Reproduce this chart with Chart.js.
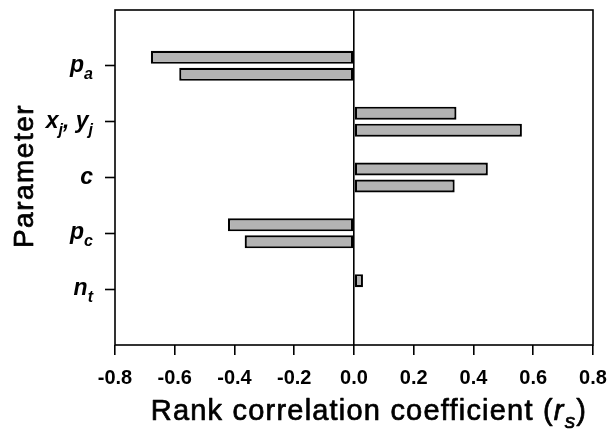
<!DOCTYPE html>
<html>
<head>
<meta charset="utf-8">
<script src="https://cdn.jsdelivr.net/npm/chart.js@4.4.0/dist/chart.umd.min.js"></script>
<style>
  html, body { margin: 0; padding: 0; background: #fff; }
  #wrap { width: 609px; height: 435px; }
</style>
</head>
<body>
<div id="wrap"><canvas id="rankChart" width="609" height="435"></canvas></div>
<script>
// parameter names, '_' puts the next letter in subscript
const parameters = ['p_a', 'x_j, y_j', 'c', 'p_c', 'n_t'];
const upperBars = [-0.68, 0.343, 0.448, -0.422, 0.03];
const lowerBars = [-0.585, 0.562, 0.337, -0.366, 0];
const xTicks = [-0.8, -0.6, -0.4, -0.2, 0.0, 0.2, 0.4, 0.6, 0.8];

const FONT = '"Liberation Sans", Arial, sans-serif';
const CLEAR = 'rgba(0,0,0,0)';

// one empty slot above and below so the categories sit like the original
const labels = [''].concat(parameters, ['']);
const pad = arr => [null].concat(arr, [null]);

// fill + thin stroke, the original text is a bit heavier than plain regular
function heavyText(ctx, t, x, y) {
    ctx.fillText(t, x, y);
    ctx.strokeText(t, x, y);
}

// draw text with '_x' subscripts, right aligned at x
function drawSubText(ctx, str, x, y, size) {
    const parts = [];
    for (let i = 0; i < str.length; i++) {
        if (str[i] === '_' && i + 1 < str.length) {
            parts.push({ t: str[i + 1], sub: true });
            i++;
        } else {
            parts.push({ t: str[i], sub: false });
        }
    }
    const subSize = Math.round(size * 0.7);
    let total = 0;
    parts.forEach(p => {
        ctx.font = 'italic bold ' + (p.sub ? subSize : size) + 'px ' + FONT;
        p.w = ctx.measureText(p.t).width;
        total += p.w;
    });
    let cx = x - total;
    parts.forEach(p => {
        ctx.font = 'italic bold ' + (p.sub ? subSize : size) + 'px ' + FONT;
        ctx.fillText(p.t, cx, p.sub ? y + size * 0.3 : y);
        cx += p.w;
    });
}

const textPlugin = {
    id: 'textPlugin',
    afterDraw(chart) {
        const ctx = chart.ctx;
        const area = chart.chartArea;
        const yScale = chart.scales.y;
        ctx.save();
        ctx.fillStyle = '#000';
        ctx.textAlign = 'left';
        ctx.textBaseline = 'alphabetic';

        // category labels
        parameters.forEach((p, i) => {
            const y = yScale.getPixelForValue(i + 1);
            drawSubText(ctx, p, 93, y + 6, 23);
        });

        // frame
        ctx.strokeStyle = '#000';
        ctx.lineWidth = 1.6;
        ctx.strokeRect(area.left, area.top, area.right - area.left, area.bottom - area.top);

        ctx.lineWidth = 0.7;
        ctx.lineJoin = 'round';

        // y title
        ctx.save();
        ctx.font = '28px ' + FONT;
        ctx.letterSpacing = '1.5px';
        ctx.translate(33, 176);
        ctx.rotate(-Math.PI / 2);
        ctx.textAlign = 'center';
        heavyText(ctx, 'Parameter', 0, 0);
        ctx.restore();

        // x title with subscript s
        ctx.letterSpacing = '1.2px';
        ctx.font = '29px ' + FONT;
        const main = 'Rank correlation coefficient (';
        const wMain = ctx.measureText(main).width;
        ctx.font = 'italic 29px ' + FONT;
        const wR = ctx.measureText('r').width;
        ctx.font = 'italic 21px ' + FONT;
        const wS = ctx.measureText('s').width;
        ctx.font = '29px ' + FONT;
        const wClose = ctx.measureText(')').width;
        let x = 369 - (wMain + wR + wS + wClose) / 2;
        const base = 420;
        heavyText(ctx, main, x, base);
        x += wMain;
        ctx.font = 'italic 29px ' + FONT;
        heavyText(ctx, 'r', x, base);
        x += wR;
        ctx.font = 'italic 21px ' + FONT;
        heavyText(ctx, 's', x, base + 8);
        x += wS;
        ctx.font = '29px ' + FONT;
        heavyText(ctx, ')', x, base);
        ctx.restore();
    }
};

const ctx = document.getElementById('rankChart').getContext('2d');
new Chart(ctx, {
    type: 'bar',
    data: {
        labels: labels,
        datasets: [
            {
                label: 'upper',
                data: pad(upperBars),
                backgroundColor: '#b3b3b3',
                borderColor: '#000',
                borderWidth: 2.2,
                borderSkipped: false,
                categoryPercentage: 0.61,
                barPercentage: 0.765
            },
            {
                label: 'lower',
                data: pad(lowerBars),
                backgroundColor: '#b3b3b3',
                borderColor: '#000',
                borderWidth: 2.2,
                borderSkipped: false,
                categoryPercentage: 0.61,
                barPercentage: 0.765
            }
        ]
    },
    options: {
        indexAxis: 'y',
        responsive: false,
        animation: false,
        devicePixelRatio: 1,
        layout: { padding: { top: 10, right: 16, left: 0, bottom: 0 } },
        plugins: {
            legend: { display: false },
            tooltip: { enabled: false }
        },
        scales: {
            x: {
                type: 'linear',
                position: 'bottom',
                min: -0.8,
                max: 0.8,
                afterBuildTicks: scale => {
                    scale.ticks = xTicks.map(v => ({ value: v }));
                },
                afterFit: scale => {
                    scale.height = 90;
                    scale.paddingLeft = 0;
                    scale.paddingRight = 0;
                },
                ticks: {
                    color: '#000',
                    font: { family: FONT, size: 20, weight: 'bold' },
                    padding: 11,
                    maxRotation: 0,
                    autoSkip: false,
                    callback: v => Number(v).toFixed(1)
                },
                grid: {
                    drawOnChartArea: true,
                    drawTicks: true,
                    tickLength: 10,
                    tickColor: '#000',
                    tickWidth: 1.6,
                    color: c => (c.tick && c.tick.value === 0) ? '#000' : CLEAR,
                    lineWidth: 1.6
                },
                border: { display: false }
            },
            y: {
                type: 'category',
                offset: false,
                afterFit: scale => { scale.width = 115; },
                ticks: { display: false },
                grid: {
                    offset: false,
                    drawOnChartArea: false,
                    drawTicks: true,
                    tickLength: 10,
                    tickWidth: 1.6,
                    tickColor: c => (c.index === 0 || c.index === labels.length - 1) ? CLEAR : '#000'
                },
                border: { display: false }
            }
        }
    },
    plugins: [textPlugin]
});
</script>
</body>
</html>
